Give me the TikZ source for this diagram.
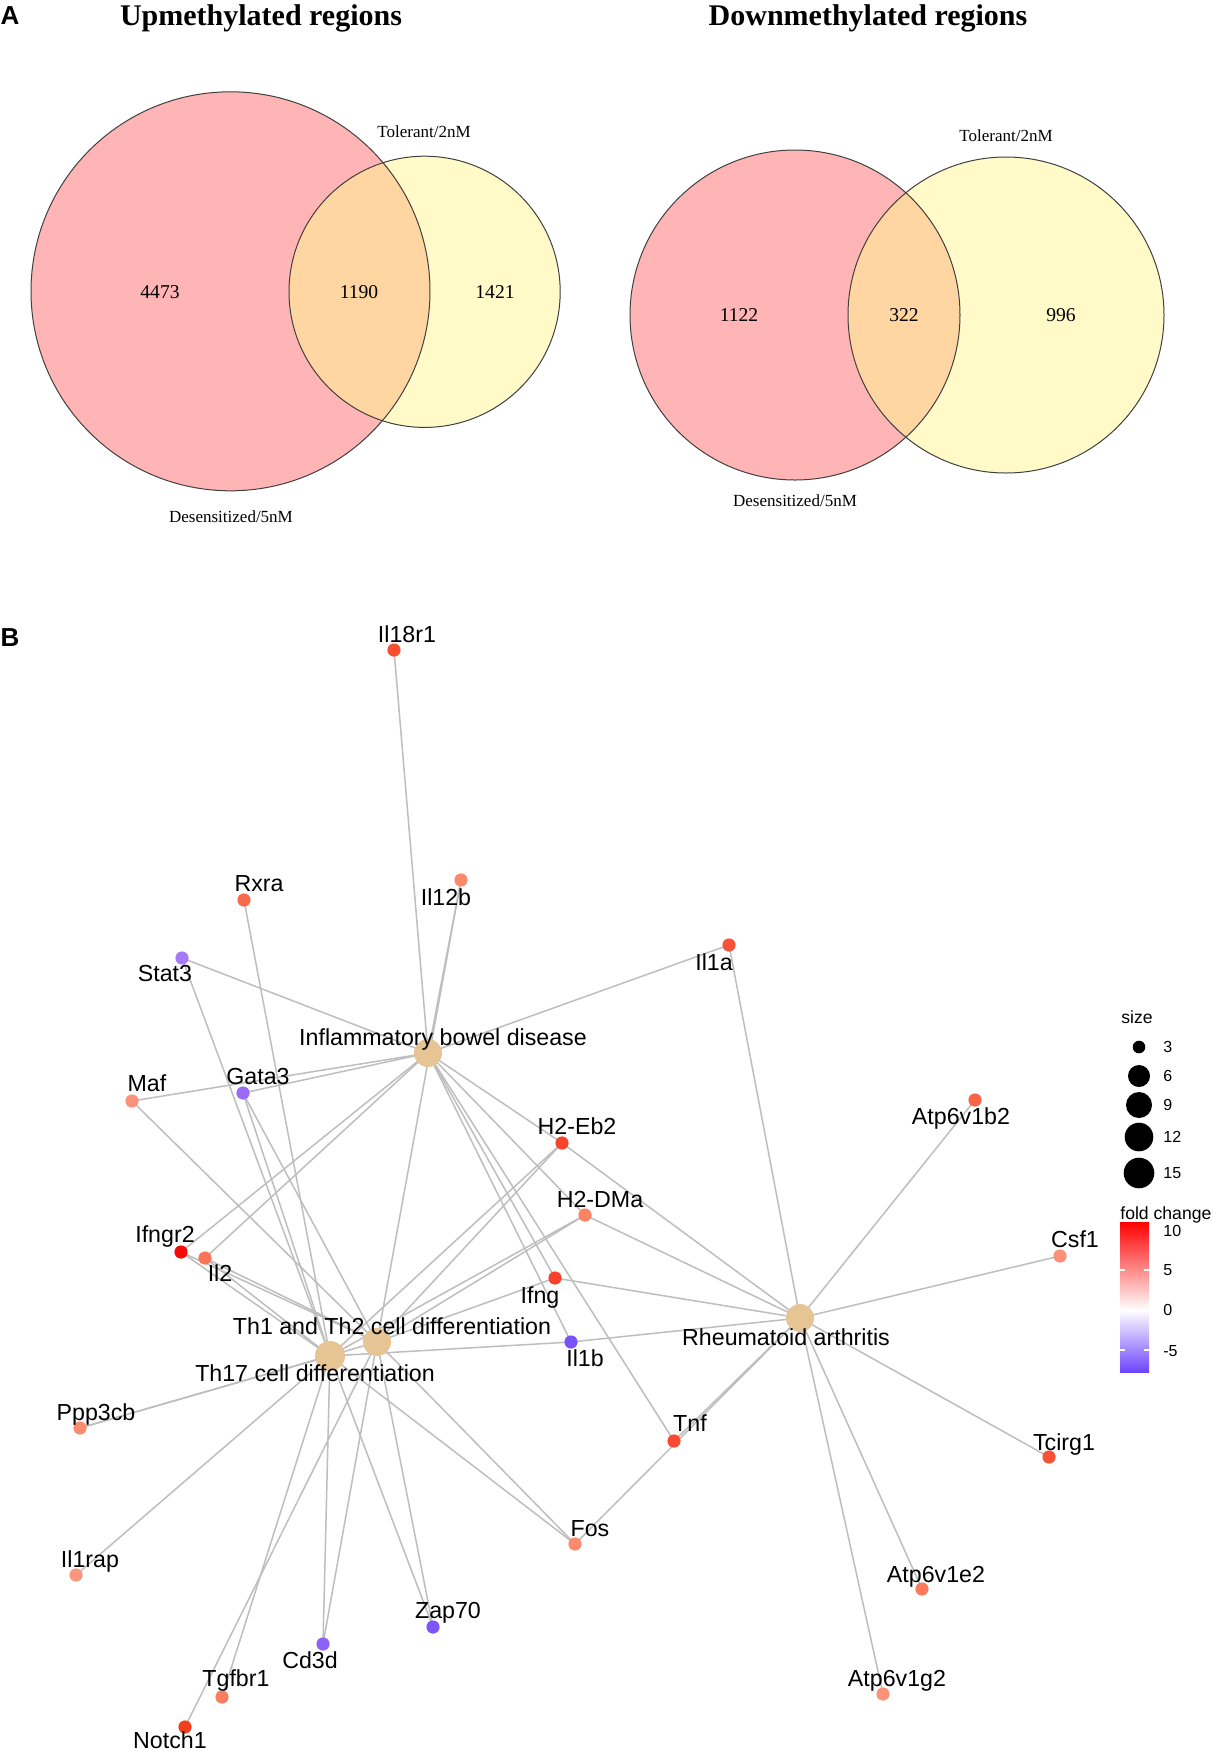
\documentclass[tikz,border=0pt]{standalone}
\usepackage{fontspec}
\setmainfont{Liberation Serif}
\setsansfont{Liberation Sans}
\pgfdeclarelayer{canvas}
\pgfdeclarelayer{background}
\pgfsetlayers{canvas,background,main}
\definecolor{vpink}{HTML}{FFB4B5}
\definecolor{vyel}{HTML}{FFFAC8}
\definecolor{vover}{HTML}{FFD5A2}
\definecolor{hubc}{HTML}{E6C493}
\definecolor{edgec}{HTML}{BEBEBE}
\definecolor{cIlxviii}{HTML}{F64F30}
\definecolor{cIlxii}{HTML}{FA8A6E}
\definecolor{cRxra}{HTML}{F86A4C}
\definecolor{cStat}{HTML}{A47BF7}
\definecolor{cIla}{HTML}{F65237}
\definecolor{cMaf}{HTML}{FA917A}
\definecolor{cGata}{HTML}{9A6BF7}
\definecolor{cEb}{HTML}{F7452C}
\definecolor{cBii}{HTML}{F96446}
\definecolor{cDMa}{HTML}{FA8466}
\definecolor{cIfngr}{HTML}{F50A0A}
\definecolor{cIlii}{HTML}{F97559}
\definecolor{cIfng}{HTML}{F7412A}
\definecolor{cCsf}{HTML}{FA9075}
\definecolor{cIlb}{HTML}{7A52FA}
\definecolor{cPpp}{HTML}{FA8C70}
\definecolor{cTnf}{HTML}{F74A2E}
\definecolor{cTcirg}{HTML}{F65234}
\definecolor{cFos}{HTML}{FA8A6C}
\definecolor{cIlrap}{HTML}{FA9580}
\definecolor{cEii}{HTML}{FA7B5E}
\definecolor{cZap}{HTML}{7D55F8}
\definecolor{cCd}{HTML}{8B63F8}
\definecolor{cTgf}{HTML}{FA7E60}
\definecolor{cGii}{HTML}{FA9378}
\definecolor{cNotch}{HTML}{F2401F}
\definecolor{cbar}{HTML}{6E45FF}
\begin{document}
\begin{tikzpicture}[x=0.5pt,y=-0.5pt,
  gene/.style={circle,inner sep=0pt,minimum size=6.6pt,draw=none},
  hub/.style={circle,inner sep=0pt,minimum size=14pt,fill=hubc,draw=none},
  lbl/.style={font=\sffamily\fontsize{11.6}{12}\selectfont,inner sep=0pt,text height=8.3pt,text depth=0pt},
  vnum/.style={font=\rmfamily\fontsize{9.8}{11}\selectfont,inner sep=0pt,text height=6.5pt,text depth=0pt},
  vlab/.style={font=\rmfamily\fontsize{8.5}{10}\selectfont,inner sep=0pt,text height=5.7pt,text depth=0pt},
  vtitle/.style={font=\rmfamily\bfseries\fontsize{15}{17}\selectfont,inner sep=0pt,text height=10pt,text depth=0pt},
  panel/.style={font=\sffamily\bfseries\fontsize{13}{15}\selectfont,inner sep=0pt,text height=9.3pt,text depth=0pt},
  leg/.style={font=\sffamily\fontsize{8.8}{10}\selectfont,inner sep=0pt,text height=6.3pt,text depth=0pt},
  legn/.style={font=\sffamily\fontsize{8}{10}\selectfont,inner sep=0pt,text height=5.8pt,text depth=0pt,anchor=west},
  edge/.style={draw=edgec,line width=0.75pt},
  vline/.style={draw=black!75,line width=0.5pt}]
\useasboundingbox (0,0) rectangle (1212,1752);
\begin{pgfonlayer}{canvas}
\fill[white] (0,0) rectangle (1212,1752);
\end{pgfonlayer}

% ---------------- Panel A ----------------
\node[panel] (pA) at (10,15) {A};
\node[vtitle] (t1) at (261,15) {Upmethylated regions};
\node[vtitle] (t2) at (868,15) {Downmethylated regions};

% left Venn
\fill[vpink] (230.5,291.3) circle[radius=99.75pt];
\fill[vyel] (424.6,291.8) circle[radius=67.8pt];
\begin{scope}
\clip (230.5,291.3) circle[radius=99.75pt];
\fill[vover] (424.6,291.8) circle[radius=67.8pt];
\end{scope}
\draw[vline] (230.5,291.3) circle[radius=99.75pt];
\draw[vline] (424.6,291.8) circle[radius=67.8pt];
\node[vnum] (n1) at (160,292) {4473};
\node[vnum] (n2) at (359,292) {1190};
\node[vnum] (n3) at (495,292) {1421};
\node[vlab] (l1a) at (424,132) {Tolerant/2nM};
\node[vlab] (l1b) at (231,517) {Desensitized/5nM};

% right Venn
\fill[vpink] (795,315) circle[radius=82.5pt];
\fill[vyel] (1006,315) circle[radius=79pt];
\begin{scope}
\clip (795,315) circle[radius=82.5pt];
\fill[vover] (1006,315) circle[radius=79pt];
\end{scope}
\draw[vline] (795,315) circle[radius=82.5pt];
\draw[vline] (1006,315) circle[radius=79pt];
\node[vnum] (n4) at (739,315) {1122};
\node[vnum] (n5) at (904,315) {322};
\node[vnum] (n6) at (1061,315) {996};
\node[vlab] (l2a) at (1006,136) {Tolerant/2nM};
\node[vlab] (l2b) at (795,501) {Desensitized/5nM};

% ---------------- Panel B ----------------
\node[panel] (pB) at (10,637) {B};

% hubs
\node[hub] (ibd) at (428,1053) {};
\node[hub] (th12) at (377,1342) {};
\node[hub,minimum size=15pt] (th17) at (330,1356) {};
\node[hub] (ra) at (800,1318) {};

% genes
\node[gene,fill=cIlxviii] (il18r1) at (394,650) {};
\node[gene,fill=cIlxii] (il12b) at (461,880) {};
\node[gene,fill=cRxra] (rxra) at (244,900) {};
\node[gene,fill=cStat] (stat3) at (182,958) {};
\node[gene,fill=cIla] (il1a) at (729,945) {};
\node[gene,fill=cMaf] (maf) at (132,1101) {};
\node[gene,fill=cGata] (gata3) at (243,1093) {};
\node[gene,fill=cEb] (h2eb2) at (562,1143) {};
\node[gene,fill=cBii] (atp6v1b2) at (975,1100) {};
\node[gene,fill=cDMa] (h2dma) at (585,1215) {};
\node[gene,fill=cIfngr] (ifngr2) at (181,1252) {};
\node[gene,fill=cIlii] (il2) at (205,1258) {};
\node[gene,fill=cIfng] (ifng) at (555,1278) {};
\node[gene,fill=cCsf] (csf1) at (1060,1256) {};
\node[gene,fill=cIlb] (il1b) at (571,1342) {};
\node[gene,fill=cPpp] (ppp3cb) at (80,1428) {};
\node[gene,fill=cTnf] (tnf) at (674,1441) {};
\node[gene,fill=cTcirg] (tcirg1) at (1049,1457) {};
\node[gene,fill=cFos] (fos) at (575,1544) {};
\node[gene,fill=cIlrap] (il1rap) at (76,1575) {};
\node[gene,fill=cEii] (atp6v1e2) at (922,1589) {};
\node[gene,fill=cZap] (zap70) at (433,1627) {};
\node[gene,fill=cCd] (cd3d) at (323,1644) {};
\node[gene,fill=cTgf] (tgfbr1) at (222,1697) {};
\node[gene,fill=cGii] (atp6v1g2) at (883,1694) {};
\node[gene,fill=cNotch] (notch1) at (185,1727) {};

% edges
\begin{pgfonlayer}{background}
\foreach \g in {il18r1,il12b,stat3,il1a,maf,gata3,h2eb2,h2dma,ifngr2,il2,ifng,il1b,tnf}
  \draw[edge] (\g.center) -- (ibd.center);
\foreach \g in {il12b,maf,gata3,h2eb2,h2dma,ifngr2,il2,ifng,ppp3cb,fos,cd3d,zap70,notch1}
  \draw[edge] (\g.center) -- (th12.center);
\foreach \g in {stat3,rxra,gata3,h2eb2,h2dma,ifngr2,il2,il1b,ppp3cb,il1rap,fos,cd3d,zap70,tgfbr1}
  \draw[edge] (\g.center) -- (th17.center);
\foreach \g in {il1a,h2eb2,h2dma,ifng,il1b,tnf,fos,atp6v1b2,csf1,tcirg1,atp6v1e2,atp6v1g2}
  \draw[edge] (\g.center) -- (ra.center);
\end{pgfonlayer}

% labels
\node[lbl] (ibd-l) at (443,1037) {Inflammatory bowel disease};
\node[lbl] (th12-l) at (392,1326) {Th1 and Th2 cell differentiation};
\node[lbl] (th17-l) at (315,1373) {Th17 cell differentiation};
\node[lbl] (ra-l) at (786,1337) {Rheumatoid arthritis};
\node[lbl] (il18r1-l) at (407,634) {Il18r1};
\node[lbl] (il12b-l) at (446,897) {Il12b};
\node[lbl] (rxra-l) at (259,883) {Rxra};
\node[lbl] (stat3-l) at (165,973) {Stat3};
\node[lbl] (il1a-l) at (714,962) {Il1a};
\node[lbl] (maf-l) at (147,1083) {Maf};
\node[lbl] (gata3-l) at (258,1076) {Gata3};
\node[lbl] (h2eb2-l) at (577,1126) {H2-Eb2};
\node[lbl] (atp6v1b2-l) at (961,1116) {Atp6v1b2};
\node[lbl] (h2dma-l) at (600,1199) {H2-DMa};
\node[lbl] (ifngr2-l) at (165,1234) {Ifngr2};
\node[lbl] (il2-l) at (220,1273) {Il2};
\node[lbl] (ifng-l) at (540,1295) {Ifng};
\node[lbl] (csf1-l) at (1075,1239) {Csf1};
\node[lbl] (il1b-l) at (585,1358) {Il1b};
\node[lbl] (ppp3cb-l) at (96,1412) {Ppp3cb};
\node[lbl] (tnf-l) at (690,1423) {Tnf};
\node[lbl] (tcirg1-l) at (1064,1442) {Tcirg1};
\node[lbl] (fos-l) at (590,1528) {Fos};
\node[lbl] (il1rap-l) at (90,1559) {Il1rap};
\node[lbl] (atp6v1e2-l) at (936,1574) {Atp6v1e2};
\node[lbl] (zap70-l) at (448,1610) {Zap70};
\node[lbl] (cd3d-l) at (310,1660) {Cd3d};
\node[lbl] (tgfbr1-l) at (236,1678) {Tgfbr1};
\node[lbl] (atp6v1g2-l) at (897,1678) {Atp6v1g2};
\node[lbl] (notch1-l) at (170,1740) {Notch1};

% legend: size
\node[leg] (size-t) at (1137,1017) {size};
\node[circle,fill=black,inner sep=0pt,minimum size=6.3pt] (s3) at (1139,1047) {};
\node[circle,fill=black,inner sep=0pt,minimum size=11pt] (s6) at (1139,1076) {};
\node[circle,fill=black,inner sep=0pt,minimum size=13pt] (s9) at (1139,1105) {};
\node[circle,fill=black,inner sep=0pt,minimum size=14.3pt] (s12) at (1139,1137) {};
\node[circle,fill=black,inner sep=0pt,minimum size=15.3pt] (s15) at (1139,1173) {};
\node[legn] (s3-l) at (1163,1047) {3};
\node[legn] (s6-l) at (1163,1076) {6};
\node[legn] (s9-l) at (1163,1105) {9};
\node[legn] (s12-l) at (1163,1137) {12};
\node[legn] (s15-l) at (1163,1173) {15};

% legend: fold change
\node[leg,anchor=west] (fc-t) at (1120,1213) {fold change};
\shade[top color=red,bottom color=white] (1120,1222) rectangle (1149,1310);
\shade[top color=white,bottom color=cbar] (1120,1310) rectangle (1149,1372);
\foreach \yy in {1270,1310,1350} {
  \draw[white,line width=0.6pt] (1120,\yy) -- (1125,\yy);
  \draw[white,line width=0.6pt] (1144,\yy) -- (1149,\yy);
}
\node[legn] (fc10) at (1163,1231) {10};
\node[legn] (fc5) at (1163,1270) {5};
\node[legn] (fc0) at (1163,1310) {0};
\node[legn] (fcm5) at (1163,1351) {-5};
\end{tikzpicture}
\end{document}
